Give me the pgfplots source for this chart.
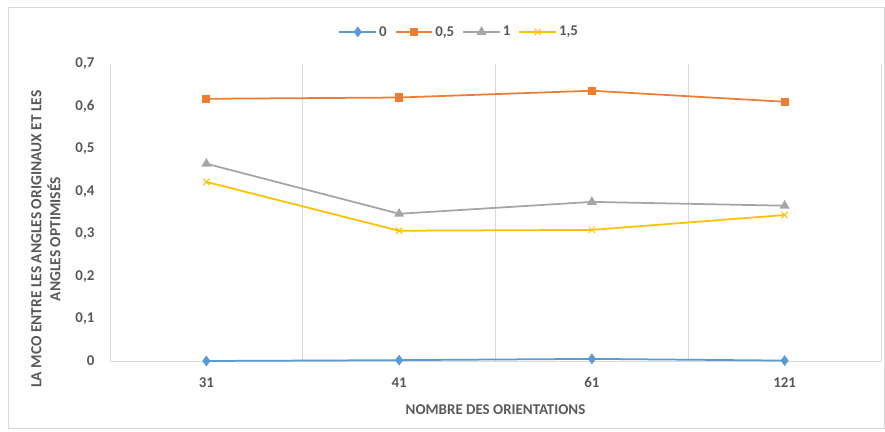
\documentclass[border=0pt]{standalone}
\usepackage{fontspec}
\setmainfont{Carlito}
\usepackage{pgfplots}
\pgfplotsset{compat=1.18}
\definecolor{sblue}{HTML}{5B9BD5}
\definecolor{sorange}{HTML}{ED7D31}
\definecolor{sgray}{HTML}{A5A5A5}
\definecolor{syellow}{HTML}{FFC000}
\definecolor{txt}{HTML}{595959}
\definecolor{grid}{HTML}{D9D9D9}
\begin{document}
\begin{tikzpicture}
\path[use as bounding box] (-110bp,-71bp) rectangle (775bp,361bp);
\draw[grid, line width=0.75bp] (-102bp,-67bp) rectangle (774bp,354bp);
\begin{axis}[
  at={(0,0)}, anchor=south west,
  scale only axis, width=771bp, height=297bp,
  xmin=-0.5, xmax=3.5, ymin=0, ymax=0.7,
  xtick={0,1,2,3}, xticklabels={31,41,61,121},
  minor xtick={-0.5,0.5,1.5,2.5,3.5},
  xminorgrids, minor x grid style={grid, line width=0.75bp},
  major tick length=0pt, minor tick length=0pt,
  ytick={0,0.1,...,0.7},
  axis line style={draw=none},
  axis x line*=bottom,
  x axis line style={draw=grid, line width=0.75bp},
  /pgf/number format/.cd, use comma, fixed, precision=1, assume math mode=true,
  /pgfplots/.cd,
  tick label style={font=\fontsize{15}{17}\selectfont\bfseries, text=txt},
  yticklabel style={xshift=-12bp},
  xticklabel style={yshift=-13bp},
  xlabel={NOMBRE DES ORIENTATIONS},
  xlabel style={font=\fontsize{15}{17}\selectfont\bfseries, text=txt, at={(axis description cs:0.5,0)}, yshift=-40bp},
  ylabel={LA MCO ENTRE LES ANGLES ORIGINAUX ET LES\\ANGLES OPTIMISÉS},
  ylabel style={font=\fontsize{15.5}{19}\selectfont\bfseries, text=txt, align=center, at={(axis description cs:0,0.41)}, yshift=46bp},
  legend image code/.code={\draw[mark repeat=2, mark phase=2] plot coordinates {(0cm,0cm) (0.65cm,0cm) (1.3cm,0cm)};},
  legend style={at={(0.453,1.075)}, anchor=south, draw=none, fill=none,
    legend columns=-1, font=\fontsize{15}{17}\selectfont\bfseries, text=txt,
    /tikz/every even column/.append style={column sep=6bp}},
  legend cell align=left,
  every axis plot/.append style={line width=1.75bp},
]
\addplot[sblue, mark=diamond*, mark size=4bp] coordinates {(0,0) (1,0.002) (2,0.005) (3,0.001)};
\addlegendentry{0}
\addplot[sorange, mark=square*, mark size=3.2bp] coordinates {(0,0.618) (1,0.621) (2,0.637) (3,0.611)};
\addlegendentry{0,5}
\addplot[sgray, mark=triangle*, mark size=4bp] coordinates {(0,0.465) (1,0.347) (2,0.375) (3,0.366)};
\addlegendentry{1}
\addplot[syellow, mark=x, mark size=4.5bp, mark options={line width=1bp}] coordinates {(0,0.422) (1,0.307) (2,0.309) (3,0.344)};
\addlegendentry{1,5}
\end{axis}
\end{tikzpicture}
\end{document}
